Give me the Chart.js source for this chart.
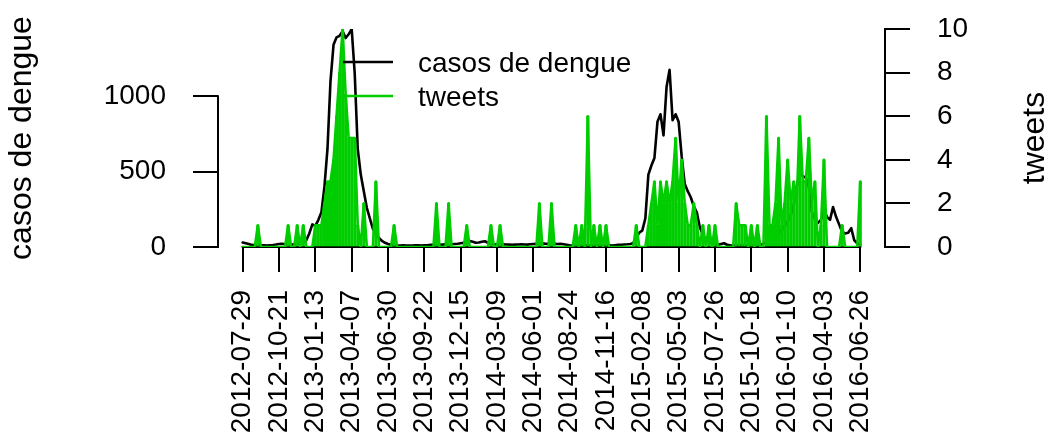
<!DOCTYPE html>
<html><head><meta charset="utf-8">
<script src="https://cdn.jsdelivr.net/npm/chart.js@4/dist/chart.umd.min.js"></script>
<style>html,body{margin:0;padding:0;background:#fff}#wrap{width:1052px;height:442px;position:relative}</style>
</head><body><div id="wrap"><canvas id="c" width="1052" height="442"></canvas></div>
<script>
// ---- data (weekly, starting 2012-07-29) ----
const tickWeeks = [0,12,24,36,48,60,72,84,96,108,120,132,144,156,168,180,192,204];
const tickLabels = ['2012-07-29','2012-10-21','2013-01-13','2013-04-07','2013-06-30','2013-09-22',
  '2013-12-15','2014-03-09','2014-06-01','2014-08-24','2014-11-16','2015-02-08','2015-05-03',
  '2015-07-26','2015-10-18','2016-01-10','2016-04-03','2016-06-26'];
const casos = [
  30,25,20,14,12,12,11,12,10,12,
  13,16,20,22,18,16,15,18,20,25,
  30,45,90,150,140,180,230,400,650,1100,
  1340,1390,1400,1430,1385,1410,1445,1150,650,480,
  370,260,190,120,85,60,40,28,20,15,
  12,10,10,11,10,9,10,11,12,10,
  11,12,14,15,13,14,16,18,17,18,
  20,22,25,28,30,40,35,28,30,35,
  38,28,22,18,17,16,18,17,16,15,
  16,17,18,17,16,18,20,22,21,24,
  22,21,23,22,20,21,18,15,12,10,
  10,9,10,10,9,10,11,10,9,10,
  10,11,10,12,14,15,17,18,20,25,
  60,95,110,190,480,540,590,830,880,740,
  1060,1175,840,880,830,600,420,370,330,270,
  230,130,80,50,35,25,20,15,20,25,
  15,12,10,10,11,10,10,9,10,10,
  12,15,22,35,45,55,68,85,110,135,
  170,210,280,400,490,470,460,400,230,185,
  160,180,245,200,180,265,200,150,100,90,
  95,125,45,25,15];
const tweets = [
  0,0,0,0,0,1,0,0,0,0,
  0,0,0,0,0,1,0,0,1,0,
  1,0,0,0,1,1,1,2,3,3,
  4,6,8,10,7,5,5,5,1,0,
  2,0,0,0,3,0,0,0,0,0,
  1,0,0,0,0,0,0,0,0,0,
  0,0,0,0,2,0,0,0,2,0,
  0,0,0,0,1,0,0,0,0,0,
  0,0,1,0,0,1,0,0,0,0,
  0,0,0,0,0,0,0,0,2,0,
  0,0,2,0,0,0,0,0,0,0,
  1,0,1,0,6,0,1,0,1,0,
  1,0,0,0,0,0,0,0,0,0,
  1,0,0,0,1,2,3,1,3,2,
  3,2,3,5,2,4,2,1,1,2,
  1,0,1,0,1,0,1,0,0,0,
  0,0,0,2,1,1,1,0,1,0,
  1,0,0,6,1,1,2,5,1,2,
  4,2,3,2,6,3,3,5,2,3,
  0,1,4,0,0,0,0,0,1,0,
  0,0,0,0,3];
const leftTicks = [0,500,1000];
const seriesNames = ['casos de dengue','tweets'];
const GREEN = '#00CD00';

// ---- chart ----
const FONT = "'Liberation Sans', Arial, Helvetica, sans-serif";
Chart.defaults.font.family = FONT;
Chart.defaults.font.size = 28;
Chart.defaults.color = '#000';

const nW = casos.length - 1;
const pad = nW * 0.04;
const pts = arr => arr.map((v, i) => ({x: i, y: v}));
const noPad = s => { s.paddingTop = 0; s.paddingBottom = 0; s.paddingLeft = 0; s.paddingRight = 0; };

const decor = {
  id: 'decor',
  beforeDatasetsDraw(chart) {
    const {ctx, scales: {x, yL, yR}, chartArea: ca} = chart;
    ctx.save();
    ctx.strokeStyle = '#000'; ctx.lineWidth = 2; ctx.lineCap = 'butt';
    ctx.beginPath();
    ctx.moveTo(ca.left, yL.getPixelForValue(leftTicks[0]) + 1);
    ctx.lineTo(ca.left, yL.getPixelForValue(leftTicks[leftTicks.length - 1]) - 1);
    ctx.moveTo(ca.right, yR.getPixelForValue(yR.min) + 1);
    ctx.lineTo(ca.right, yR.getPixelForValue(yR.max) - 1);
    ctx.moveTo(x.getPixelForValue(tickWeeks[0]) - 1, ca.bottom);
    ctx.lineTo(x.getPixelForValue(tickWeeks[tickWeeks.length - 1]) + 1, ca.bottom);
    ctx.stroke();
    ctx.restore();
  },
  afterDatasetsDraw(chart) {
    const {ctx} = chart;
    ctx.save();
    ctx.lineWidth = 2.5;
    ctx.strokeStyle = '#000';
    ctx.beginPath(); ctx.moveTo(343, 62); ctx.lineTo(393, 62); ctx.stroke();
    ctx.strokeStyle = GREEN;
    ctx.beginPath(); ctx.moveTo(343, 96); ctx.lineTo(393, 96); ctx.stroke();
    ctx.fillStyle = '#000';
    ctx.font = '28px ' + FONT;
    ctx.textAlign = 'left'; ctx.textBaseline = 'alphabetic';
    ctx.fillText(seriesNames[0], 418, 72);
    ctx.fillText(seriesNames[1], 418, 106);
    // right axis title (reads upward, as in the reference)
    ctx.font = '32px ' + FONT;
    ctx.translate(1035, 138);
    ctx.rotate(-Math.PI / 2);
    ctx.textAlign = 'center'; ctx.textBaseline = 'middle';
    ctx.fillText(seriesNames[1], 0, 0);
    ctx.restore();
  }
};

new Chart(document.getElementById('c'), {
  type: 'line',
  data: {
    datasets: [
      {type: 'line', label: seriesNames[0], data: pts(casos), yAxisID: 'yL', xAxisID: 'x',
       borderColor: '#000', borderWidth: 2.6, borderJoinStyle: 'round', borderCapStyle: 'round',
       pointRadius: 0, tension: 0, order: 3},
      {type: 'bar', label: seriesNames[1] + ' h', data: pts(tweets), yAxisID: 'yR', xAxisID: 'x',
       backgroundColor: GREEN, borderWidth: 0, barThickness: 2.4, order: 2},
      {type: 'line', label: seriesNames[1], data: pts(tweets), yAxisID: 'yR', xAxisID: 'x',
       borderColor: GREEN, borderWidth: 2.6, borderJoinStyle: 'round', borderCapStyle: 'round',
       pointRadius: 0, tension: 0, order: 1}
    ]
  },
  options: {
    responsive: false,
    animation: false,
    layout: {padding: {top: 29, left: 0, right: 0, bottom: 0}},
    plugins: {legend: {display: false}, tooltip: {enabled: false}},
    scales: {
      x: {
        type: 'linear', position: 'bottom', min: -pad, max: nW + pad, offset: false,
        afterBuildTicks: s => { s.ticks = tickWeeks.map(v => ({value: v})); },
        afterFit: s => { s.height = 442 - 247; noPad(s); },
        grid: {display: true, offset: false, drawOnChartArea: false, drawTicks: true, tickLength: 25, color: '#000', lineWidth: 2},
        border: {display: false},
        ticks: {autoSkip: false, minRotation: 90, maxRotation: 90, padding: 18,
                callback: (v, i) => tickLabels[i]}
      },
      yL: {
        type: 'linear', position: 'left', min: 0, max: Math.max(...casos),
        afterBuildTicks: s => { s.ticks = leftTicks.map(v => ({value: v})); },
        afterFit: s => { s.width = 218; noPad(s); },
        grid: {display: true, drawOnChartArea: false, drawTicks: true, tickLength: 25, color: '#000', lineWidth: 2},
        border: {display: false},
        ticks: {padding: 27, callback: v => String(v)},
        title: {display: true, text: seriesNames[0], font: {size: 32}, padding: {top: 3, bottom: 0}}
      },
      yR: {
        type: 'linear', position: 'right', min: 0, max: 10,
        ticks: {stepSize: 2, padding: 27, callback: v => String(v)},
        afterFit: s => { s.width = 1052 - 885; noPad(s); },
        grid: {display: true, drawOnChartArea: false, drawTicks: true, tickLength: 25, color: '#000', lineWidth: 2},
        border: {display: false}
      }
    }
  },
  plugins: [decor]
});
</script>
</body></html>
